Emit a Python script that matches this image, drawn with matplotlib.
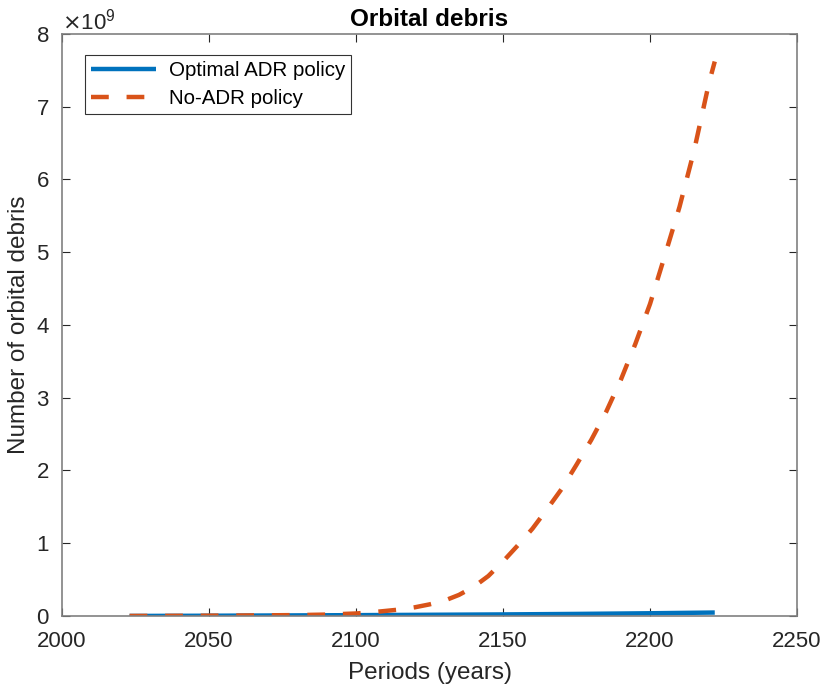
import numpy as np
import matplotlib.pyplot as plt
from matplotlib.ticker import ScalarFormatter

plt.rcParams['font.family'] = ['Liberation Sans', 'DejaVu Sans']

# (units of 1e9)
years_opt = [2023, 2050, 2075, 2100, 2125, 2150, 2175, 2200, 2222]
debris_opt = [0.001, 0.004, 0.008, 0.012, 0.017, 0.022, 0.029, 0.038, 0.048]

years_no = [2023, 2040, 2060, 2080, 2090, 2100, 2105, 2110, 2115, 2120, 2125, 2130,
            2135, 2140, 2145, 2150, 2155, 2160, 2165, 2170, 2175, 2180, 2185,
            2190, 2195, 2200, 2205, 2210, 2215, 2220, 2222]
debris_no = [0.001, 0.003, 0.007, 0.013, 0.02, 0.035, 0.05, 0.07, 0.09, 0.12, 0.16, 0.21,
             0.29, 0.40, 0.55, 0.75, 0.97, 1.20, 1.47, 1.75, 2.08, 2.42, 2.80,
             3.24, 3.74, 4.29, 4.95, 5.62, 6.40, 7.32, 7.62]

debris_opt = np.array(debris_opt) * 1e9
debris_no = np.array(debris_no) * 1e9

dark = '#262626'
fig = plt.figure(figsize=(8.26, 6.91), dpi=100)
ax = fig.add_axes([0.075, 0.1085, 0.89, 0.8425])

ax.plot(years_opt, debris_opt, color='#0072BD', lw=3.2, label='Optimal ADR policy',
        solid_capstyle='butt')
ax.plot(years_no, debris_no, color='#D95319', lw=3.2, ls=(0, (4, 4)), label='No-ADR policy')

ax.set_xlim(2000, 2250)
ax.set_ylim(0, 8e9)
ax.set_xticks(np.arange(2000, 2251, 50))
ax.set_yticks(np.arange(0, 8.1e9, 1e9))

fmt = ScalarFormatter(useMathText=True)
fmt.set_powerlimits((0, 0))
ax.yaxis.set_major_formatter(fmt)
ax.yaxis.get_offset_text().set_fontsize(16)
ax.yaxis.get_offset_text().set_color(dark)

ax.tick_params(direction='in', top=True, right=True, labelsize=16, colors=dark,
               length=6, width=0.8)
ax.tick_params(axis='x', pad=11)
ax.tick_params(axis='y', pad=9)
for s in ax.spines.values():
    s.set_color('#808080')
    s.set_linewidth(1.2)

ax.set_xlabel('Periods (years)', fontsize=17.5, color=dark, labelpad=7)
ax.set_ylabel('Number of orbital debris', fontsize=17.5, color=dark)
ax.set_title('Orbital debris', fontsize=17.5, fontweight='bold', pad=6)

leg = ax.legend(loc='upper left', bbox_to_anchor=(0.031, 0.964), fontsize=14.75, fancybox=False,
                edgecolor='black', handlelength=3.2, borderpad=0.3, labelspacing=0.45,
                handletextpad=0.6, borderaxespad=0)
leg.get_frame().set_linewidth(0.8)

fig.savefig('out.png', dpi=100)
